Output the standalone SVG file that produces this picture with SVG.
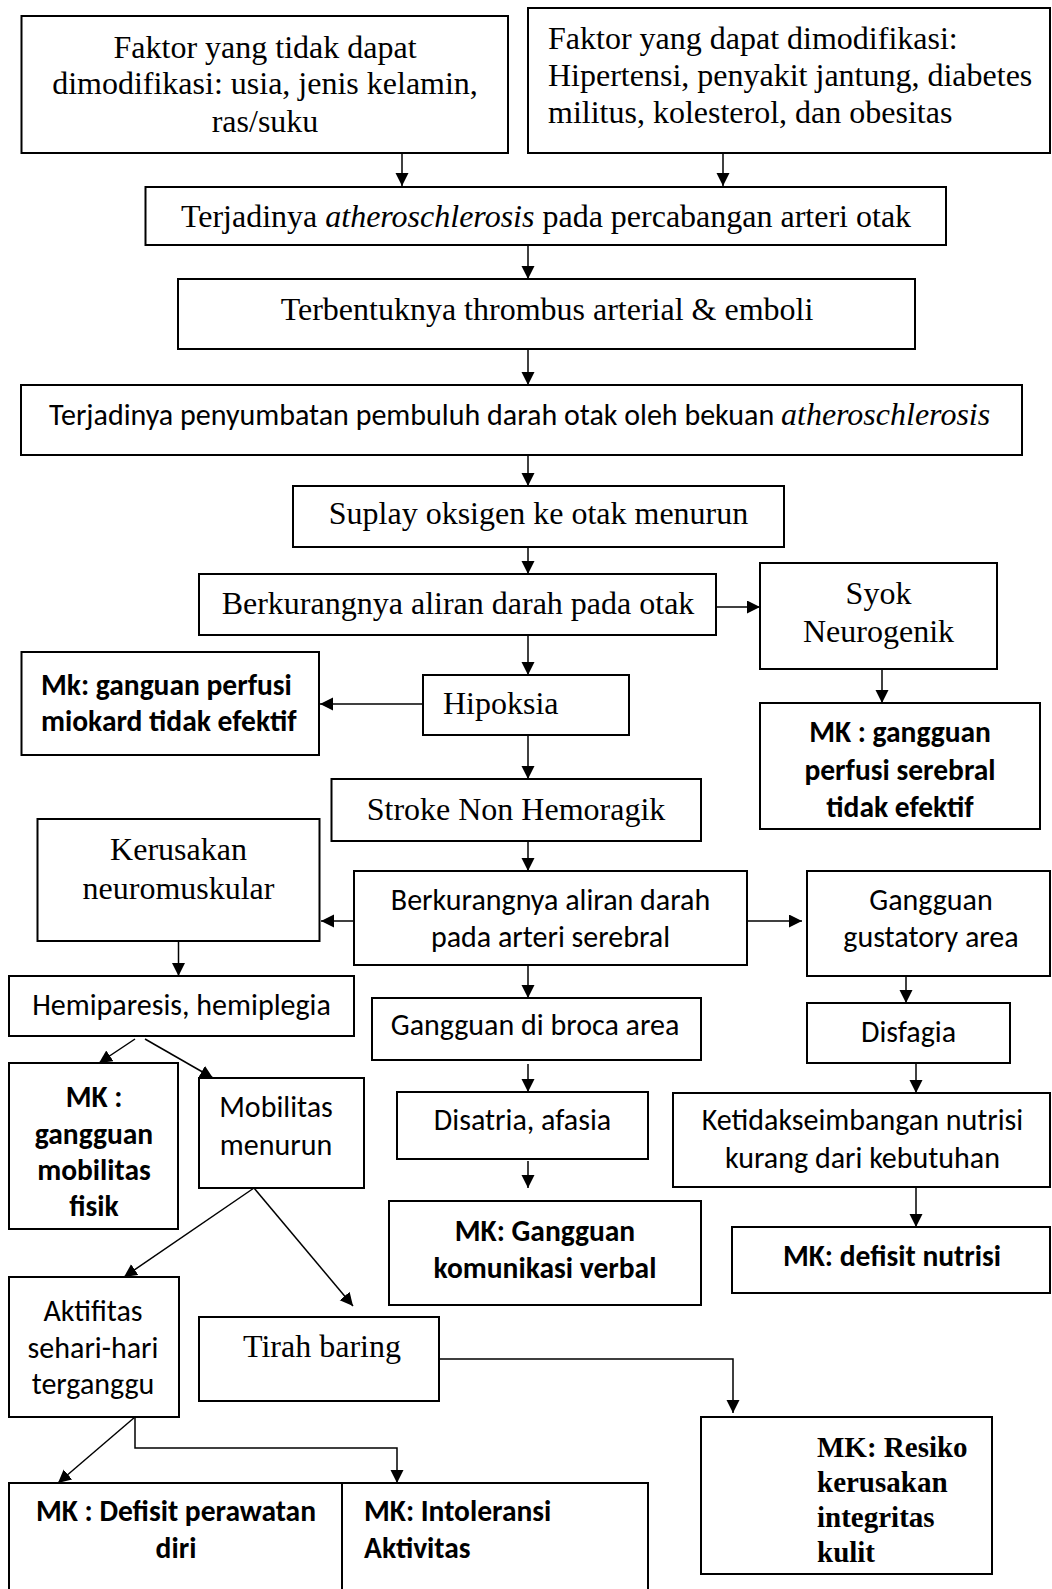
<svg xmlns="http://www.w3.org/2000/svg" width="1052" height="1589" viewBox="0 0 1052 1589">
<style>
.box{fill:#fff;stroke:#000;stroke-width:2}
.t{font-family:"Liberation Serif","Times New Roman",serif;font-size:32px;fill:#000}
.ti{font-style:italic}
.tb{font-family:"Liberation Serif","Times New Roman",serif;font-size:29px;font-weight:bold;fill:#000}
.s{font-family:Carlito,Calibri,Lato,sans-serif;font-size:30px;fill:#000}
.sb{font-family:Carlito,Calibri,Lato,sans-serif;font-size:29.5px;font-weight:bold;fill:#000}
.c{text-anchor:middle}
.conn{fill:none;stroke:#000;stroke-width:1.5;marker-end:url(#arr)}
</style>
<defs>
<marker id="arr" markerUnits="userSpaceOnUse" markerWidth="14" markerHeight="14" refX="13" refY="6.5" orient="auto">
<path d="M0,0 L13,6.5 L0,13 z" fill="#000"/>
</marker>
</defs>
<rect width="1052" height="1589" fill="#fff"/>
<g id="connectors">
<path class="conn" d="M402,153 V186"/>
<path class="conn" d="M723,153 V186"/>
<path class="conn" d="M528,245 V279"/>
<path class="conn" d="M528,349 V385"/>
<path class="conn" d="M528,455 V486"/>
<path class="conn" d="M528,547 V574"/>
<path class="conn" d="M716,607 H760"/>
<path class="conn" d="M882,669 V703"/>
<path class="conn" d="M528,635 V675"/>
<path class="conn" d="M423,704 H320"/>
<path class="conn" d="M528,735 V779"/>
<path class="conn" d="M528,841 V871"/>
<path class="conn" d="M354,921 H321"/>
<path class="conn" d="M747,921 H802"/>
<path class="conn" d="M178.5,941 V976"/>
<path class="conn" d="M528,965 V998"/>
<path class="conn" d="M528,1064 V1092"/>
<path class="conn" d="M528,1161 V1188"/>
<path class="conn" d="M906,976 V1003"/>
<path class="conn" d="M916,1063 V1093"/>
<path class="conn" d="M916,1187 V1227"/>
<path class="conn" d="M135,1039 L99,1063"/>
<path class="conn" d="M145,1039 L213,1078"/>
<path class="conn" d="M254,1188 L124,1277"/>
<path class="conn" d="M254,1188 L353,1306"/>
<path class="conn" d="M439,1359 H733 V1413"/>
<path class="conn" d="M135,1417 L58,1483"/>
<path class="conn" d="M135,1417 V1448 H397 V1483"/>
</g>
<g id="n1"><rect class="box" x="21.5" y="16" width="486.5" height="137"/>
<text class="t c" x="265" y="58">Faktor yang tidak dapat</text>
<text class="t c" x="265" y="94">dimodifikasi: usia, jenis kelamin,</text>
<text class="t c" x="265" y="132">ras/suku</text></g>
<g id="n2"><rect class="box" x="528" y="8" width="522" height="145"/>
<text class="t" x="548" y="49">Faktor yang dapat dimodifikasi:</text>
<text class="t" x="548" y="86">Hipertensi, penyakit jantung, diabetes</text>
<text class="t" x="548" y="123">militus, kolesterol, dan obesitas</text></g>
<g id="n3"><rect class="box" x="145.5" y="187" width="800.5" height="58"/>
<text class="t c" x="546" y="227">Terjadinya <tspan class="ti">atheroschlerosis</tspan> pada percabangan arteri otak</text></g>
<g id="n4"><rect class="box" x="178" y="279" width="737" height="70"/>
<text class="t c" x="547" y="320">Terbentuknya thrombus arterial &amp; emboli</text></g>
<g id="n5"><rect class="box" x="21" y="385" width="1001" height="70"/>
<text class="s" x="49" y="425">Terjadinya penyumbatan pembuluh darah otak oleh bekuan</text>
<text class="t ti" x="781" y="425" font-size="30.5">atheroschlerosis</text></g>
<g id="n6"><rect class="box" x="293" y="486" width="491" height="61"/>
<text class="t c" x="538.5" y="524">Suplay oksigen ke otak menurun</text></g>
<g id="n7"><rect class="box" x="199" y="574" width="517" height="61"/>
<text class="t c" x="458" y="614">Berkurangnya aliran darah pada otak</text></g>
<g id="n8"><rect class="box" x="760" y="563" width="237" height="106"/>
<text class="t c" x="878.5" y="604">Syok</text>
<text class="t c" x="878.5" y="642">Neurogenik</text></g>
<g id="n9"><rect class="box" x="760" y="703" width="280" height="126"/>
<text class="sb c" x="900" y="742">MK : gangguan</text>
<text class="sb c" x="900" y="780">perfusi serebral</text>
<text class="sb c" x="900" y="817">tidak efektif</text></g>
<g id="n10"><rect class="box" x="423" y="675" width="206" height="60"/>
<text class="t" x="443" y="714">Hipoksia</text></g>
<g id="n11"><rect class="box" x="21.5" y="652" width="297.5" height="103"/>
<text class="sb" x="41" y="695">Mk: ganguan perfusi</text>
<text class="sb" x="41" y="731">miokard tidak efektif</text></g>
<g id="n12"><rect class="box" x="331.5" y="779" width="369.5" height="62"/>
<text class="t c" x="516" y="820">Stroke Non Hemoragik</text></g>
<g id="n13"><rect class="box" x="354" y="871" width="393" height="94"/>
<text class="s c" x="550.5" y="910">Berkurangnya aliran darah</text>
<text class="s c" x="550.5" y="947">pada arteri serebral</text></g>
<g id="n14"><rect class="box" x="37.5" y="819" width="282" height="122"/>
<text class="t c" x="178.5" y="860">Kerusakan</text>
<text class="t c" x="178.5" y="899">neuromuskular</text></g>
<g id="n15"><rect class="box" x="807" y="871" width="243" height="105"/>
<text class="s c" x="931" y="910">Gangguan</text>
<text class="s c" x="931" y="947">gustatory area</text></g>
<g id="n16"><rect class="box" x="9" y="976" width="345" height="60"/>
<text class="s c" x="181.5" y="1015">Hemiparesis, hemiplegia</text></g>
<g id="n17"><rect class="box" x="372" y="998" width="329" height="62"/>
<text class="s c" x="535" y="1035">Gangguan di broca area</text></g>
<g id="n18"><rect class="box" x="397" y="1092" width="251" height="67"/>
<text class="s c" x="522.5" y="1130">Disatria, afasia</text></g>
<g id="n19"><rect class="box" x="389" y="1201" width="312" height="104"/>
<text class="sb c" x="545" y="1241">MK: Gangguan</text>
<text class="sb c" x="545" y="1278">komunikasi verbal</text></g>
<g id="n20"><rect class="box" x="807" y="1003" width="203" height="60"/>
<text class="s c" x="908.5" y="1042">Disfagia</text></g>
<g id="n21"><rect class="box" x="673" y="1093" width="377" height="94"/>
<text class="s c" x="862.5" y="1130">Ketidakseimbangan nutrisi</text>
<text class="s c" x="862.5" y="1168">kurang dari kebutuhan</text></g>
<g id="n22"><rect class="box" x="732" y="1227" width="318" height="66"/>
<text class="sb c" x="892" y="1266">MK: defisit nutrisi</text></g>
<g id="n23"><rect class="box" x="9" y="1063" width="169" height="166"/>
<text class="sb c" x="94" y="1107">MK :</text>
<text class="sb c" x="94" y="1144">gangguan</text>
<text class="sb c" x="94" y="1180">mobilitas</text>
<text class="sb c" x="94" y="1216">fisik</text></g>
<g id="n24"><rect class="box" x="199" y="1078" width="165" height="110"/>
<text class="s c" x="276" y="1117">Mobilitas</text>
<text class="s c" x="276" y="1155">menurun</text></g>
<g id="n25"><rect class="box" x="9" y="1277" width="170" height="140"/>
<text class="s c" x="93" y="1321">Aktifitas</text>
<text class="s c" x="93" y="1358">sehari-hari</text>
<text class="s c" x="93" y="1394">terganggu</text></g>
<g id="n26"><rect class="box" x="199" y="1317" width="240" height="84"/>
<text class="t" x="243" y="1357">Tirah baring</text></g>
<g id="n27"><rect class="box" x="701" y="1417" width="291" height="157"/>
<text class="tb" x="817" y="1457">MK: Resiko</text>
<text class="tb" x="817" y="1492">kerusakan</text>
<text class="tb" x="817" y="1527">integritas</text>
<text class="tb" x="817" y="1562">kulit</text></g>
<g id="n28"><rect class="box" x="9" y="1483" width="333" height="120"/>
<text class="sb c" x="176" y="1521">MK : Defisit perawatan</text>
<text class="sb c" x="176" y="1558">diri</text></g>
<g id="n29"><rect class="box" x="342" y="1483" width="306" height="120"/>
<text class="sb" x="364" y="1521">MK: Intoleransi</text>
<text class="sb" x="364" y="1558">Aktivitas</text></g>
</svg>
